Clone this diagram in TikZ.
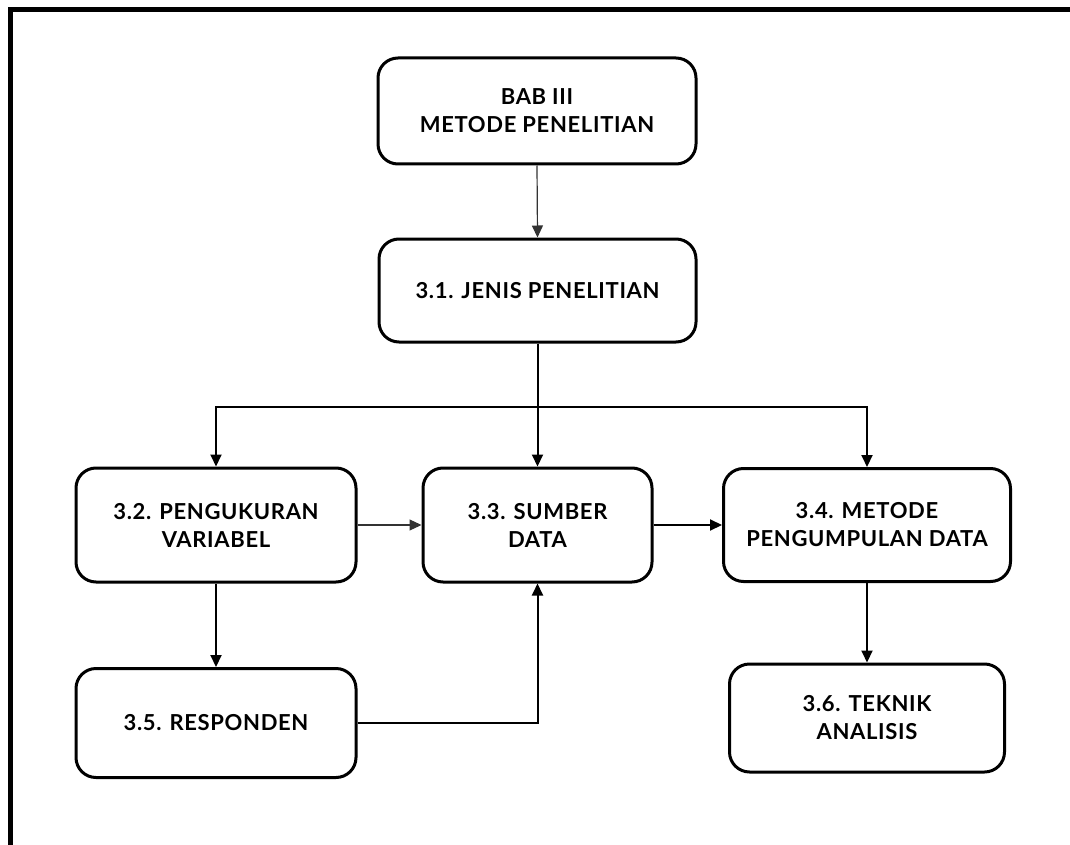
\documentclass[tikz,border=0pt]{standalone}
\usepackage{fontspec}
\setmainfont{Lato}[LetterSpace=3]
\usetikzlibrary{arrows.meta}
\begin{document}
\begin{tikzpicture}[x=1pt,y=-1pt,
  box/.style={draw, line width=3pt, rounded corners=20pt, align=center,
    font=\fontsize{22}{28}\selectfont\bfseries, inner sep=0pt},
  link/.style={line width=2pt, -{Triangle[length=12pt,width=11pt]}},
  thinlink/.style={line width=1.2pt, draw=black!80, -{Triangle[length=12pt,width=11pt]}}]
  \useasboundingbox (0,0) rectangle (1070,845);
  % frame along the top and left edges
  \draw[line width=5pt, line join=miter] (10.5,845) -- (10.5,9.5) -- (1070,9.5);

  \node[box, minimum width=318pt, minimum height=106pt] (bab) at (537,111) {BAB III\\METODE PENELITIAN};
  \node[box, minimum width=317pt, minimum height=103pt] (n31) at (537.5,290.5) {3.1. JENIS PENELITIAN};
  \node[box, minimum width=280pt, minimum height=114pt] (n32) at (216,525) {3.2. PENGUKURAN\\VARIABEL};
  \node[box, minimum width=229pt, minimum height=114pt] (n33) at (537.5,525) {3.3. SUMBER\\DATA};
  \node[box, minimum width=287pt, minimum height=113pt] (n34) at (867,525) {3.4. METODE\\PENGUMPULAN DATA};
  \node[box, minimum width=280pt, minimum height=109pt] (n35) at (216,723) {3.5. RESPONDEN};
  \node[box, minimum width=275pt, minimum height=108pt] (n36) at (867,718) {3.6. TEKNIK\\ANALISIS};

  \coordinate (bar) at (537.5,407);

  \draw[thinlink] (bab.south) -- (n31.north);
  \draw[link] (n31.south) -- (n33.north);
  \draw[link] (bar) -| (n32.north);
  \draw[link] (bar) -| (n34.north);
  \draw[thinlink] (n32.east) -- (n33.west);
  \draw[link] (n33.east) -- (n34.west);
  \draw[link] (n32.south) -- (n35.north);
  \draw[link] (n35.east) -| (n33.south);
  \draw[link] (n34.south) -- (n36.north);
\end{tikzpicture}
\end{document}
